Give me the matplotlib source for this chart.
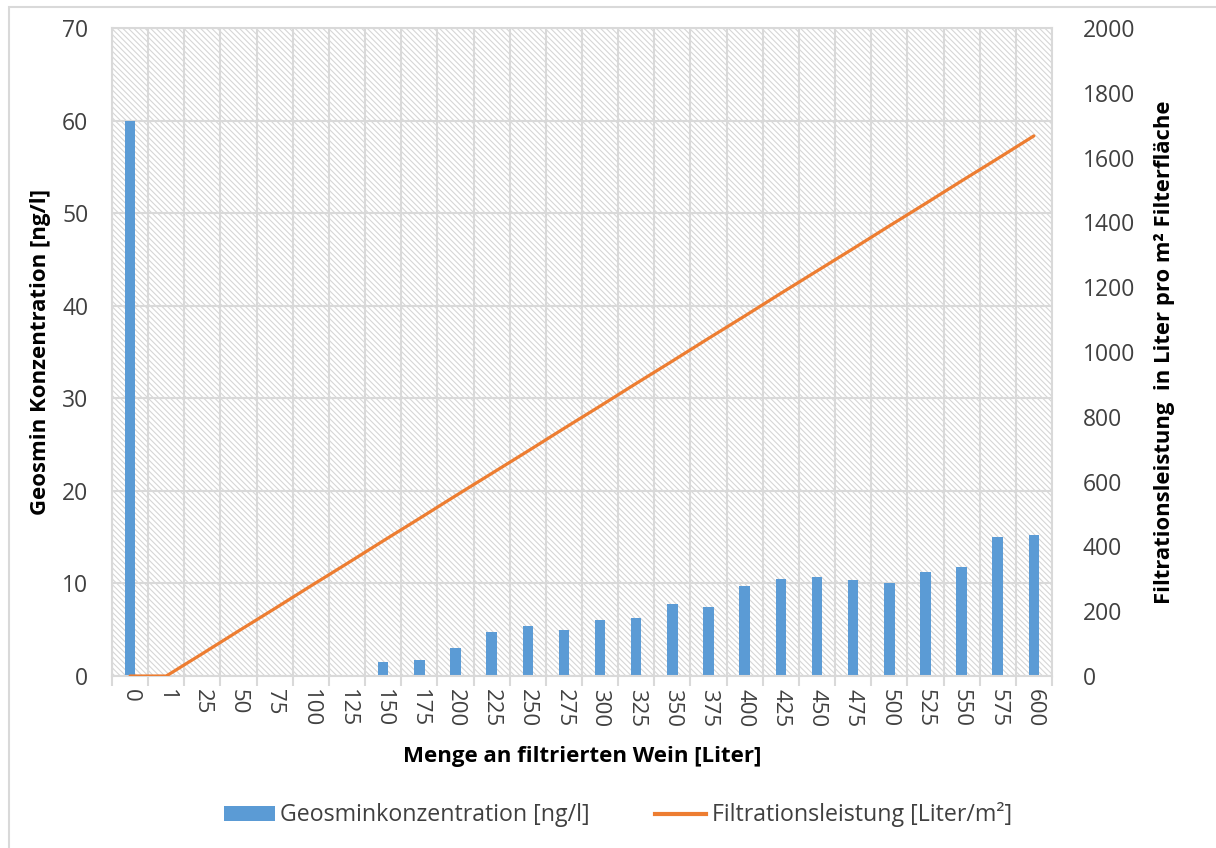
import numpy as np
import matplotlib.pyplot as plt
from matplotlib.patches import Rectangle, Patch
from matplotlib.lines import Line2D

plt.rcParams['font.family'] = ['Open Sans', 'DejaVu Sans']
plt.rcParams['hatch.color'] = '#d6d6d6'
plt.rcParams['hatch.linewidth'] = 0.8

# Menge an filtriertem Wein [Liter]
menge = ['0', '1', '25', '50', '75', '100', '125', '150', '175', '200', '225', '250',
         '275', '300', '325', '350', '375', '400', '425', '450', '475', '500', '525',
         '550', '575', '600']
# Geosminkonzentration [ng/l]
geosmin = [60.0, 0, 0, 0, 0, 0, 0, 1.5, 1.7, 3.0, 4.8, 5.4, 5.0, 6.0, 6.3, 7.8, 7.5,
           9.7, 10.5, 10.7, 10.4, 10.1, 11.2, 11.8, 15.0, 15.2]
# Filtrationsleistung [Liter/m²]
leistung = [0, 0, 69, 139, 208, 278, 347, 417, 486, 556, 625, 694, 764, 833, 903, 972,
            1042, 1111, 1181, 1250, 1319, 1389, 1458, 1528, 1597, 1667]

blau = '#5b9bd5'
orange = '#ed7d31'
grau = '#d9d9d9'
text_col = '#404040'

fig = plt.figure(figsize=(12.16, 8.48), dpi=100)
ax = fig.add_axes([0.0921, 0.2028, 0.7730, 0.7642])

x = np.arange(len(menge))

# schraffierter Hintergrund der Zeichenfläche
ax.add_patch(Rectangle((0, 0), 1, 1, transform=ax.transAxes, facecolor='white',
                       edgecolor='#d6d6d6', hatch='\\' * 6, linewidth=0, zorder=0))

ax.bar(x, geosmin, width=0.29, color=blau, zorder=2)

ax.set_xlim(-0.5, len(menge) - 0.5)
ax.set_ylim(0, 70)
ax.set_yticks(np.arange(0, 71, 10))
ax.set_xticks(x)
ax.set_xticklabels(menge, rotation=270, fontsize=16, color=text_col)
ax.set_xticks(np.arange(-0.5, len(menge), 1), minor=True)
ax.tick_params(axis='x', which='major', length=0, pad=9)
ax.tick_params(axis='x', which='minor', length=7, width=1.5, color=grau, direction='out')
ax.tick_params(axis='y', length=0, labelsize=16.5, labelcolor=text_col, pad=17)

ax.grid(axis='y', which='major', color=grau, linewidth=1.5, zorder=1)
ax.grid(axis='x', which='minor', color=grau, linewidth=1.5, zorder=1)
for s in ax.spines.values():
    s.set_color(grau)
    s.set_linewidth(1.5)

ax.set_xlabel('Menge an filtrierten Wein [Liter]', fontsize=16, fontweight='bold',
              color='black', labelpad=14)
ax.set_ylabel('Geosmin Konzentration [ng/l]', fontsize=16, fontweight='bold',
              color='black', labelpad=8)

ax2 = ax.twinx()
ax2.plot(x, leistung, color=orange, linewidth=2.3, solid_capstyle='round', zorder=3)
ax2.set_ylim(0, 2000)
ax2.set_yticks(np.arange(0, 2001, 200))
ax2.tick_params(axis='y', length=0, labelsize=16.5, labelcolor=text_col, pad=22)
for s in ax2.spines.values():
    s.set_visible(False)
ax2.set_ylabel('Filtrationsleistung  in Liter pro m² Filterfläche', fontsize=15.8,
               fontweight='bold', color='black', labelpad=14)

handles = [Patch(facecolor=blau, edgecolor='none'),
           Line2D([0], [0], color=orange, linewidth=3)]
fig.legend(handles, ['Geosminkonzentration [ng/l]', 'Filtrationsleistung [Liter/m²]'],
           loc='center', bbox_to_anchor=(0.508, 0.039), ncol=2, frameon=False,
           fontsize=16.7, handlelength=2.2, handleheight=0.6, columnspacing=2.8,
           handletextpad=0.25, labelcolor=text_col)

# Rahmen um das gesamte Diagramm
fig.add_artist(Rectangle((9 / 1216, -0.1), 1.2, 1.1 - 7 / 848, transform=fig.transFigure,
                         facecolor='none', edgecolor=grau, linewidth=1.5))

fig.savefig('out.png', dpi=100)
